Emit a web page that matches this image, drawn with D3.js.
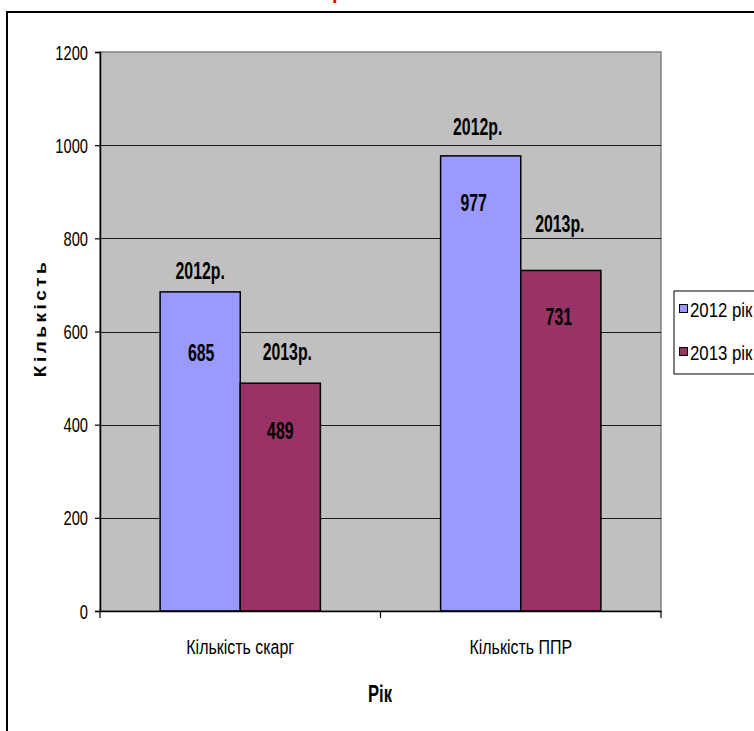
<!DOCTYPE html>
<html><head><meta charset="utf-8">
<script src="https://cdn.jsdelivr.net/npm/d3@7"></script>
<style>
html,body{margin:0;padding:0;background:#fff;overflow:hidden}
svg{display:block}
text{font-family:"Liberation Sans",Arial,sans-serif}
</style></head>
<body>
<svg id="c" width="754" height="731"></svg>
<script>
// ---- data ----
const categories = ["Кількість скарг", "Кількість ППР"];
const seriesNames = ["2012 рік", "2013 рік"];
const seriesLabels = ["2012р.", "2013р."];
const values2012 = [685, 977];
const values2013 = [489, 731];
const yTicks = [0, 200, 400, 600, 800, 1000, 1200];
const colors = ["#9999FF", "#993366"];

// ---- layout ----
const W = 754, H = 731;
const plot = {left: 100, right: 661, top: 52, bottom: 611};
// manual label offsets (px) : [dx, dy] relative to bar centre / bar top
const nameOffsets = [[[0, -21], [7, -32]], [[-3, -29], [-1, -47]]];
const valueOffsets = [[[1, 61], [0, 47]], [[-7, 47], [-2, 46]]];

const svg = d3.select("#c");

// outer frame
svg.append("line").attr("x1", 6).attr("x2", W).attr("y1", 12).attr("y2", 12)
  .attr("stroke", "#000").attr("stroke-width", 2);
svg.append("line").attr("x1", 7).attr("x2", 7).attr("y1", 11).attr("y2", H)
  .attr("stroke", "#000").attr("stroke-width", 2);

// cut-off red title fragment (reference shows only its lower edge)
svg.append("text").attr("x", 332).attr("y", -1)
  .attr("font-family", "Liberation Serif, Times New Roman, serif")
  .attr("font-weight", "bold").attr("font-size", 20).attr("fill", "#ff0000").text("р");

const y = d3.scaleLinear().domain([0, 1200]).range([plot.bottom, plot.top]);
const x0 = d3.scaleBand().domain(categories).range([plot.left, plot.right]).paddingInner(0).paddingOuter(0);
const bw = x0.bandwidth() / 3.5;
const x1 = d3.scaleBand().domain([0, 1]).range([0.75 * bw, 2.75 * bw]).padding(0);

// plot background
svg.append("rect").attr("x", plot.left).attr("y", plot.top)
  .attr("width", plot.right - plot.left).attr("height", plot.bottom - plot.top)
  .attr("fill", "#C0C0C0").attr("stroke", "#808080").attr("stroke-width", 1.5);

// gridlines
svg.append("g").selectAll("line").data(yTicks.filter(d => d > 0 && d < 1200)).join("line")
  .attr("x1", plot.left).attr("x2", plot.right)
  .attr("y1", d => Math.round(y(d)) + 0.5).attr("y2", d => Math.round(y(d)) + 0.5)
  .attr("stroke", "#1a1a1a").attr("stroke-width", 1);

// bars
const rows = categories.map((c, i) => [values2012[i], values2013[i]]);
categories.forEach((c, ci) => {
  [0, 1].forEach(si => {
    const v = rows[ci][si];
    const bx = x0(c) + x1(si);
    svg.append("rect").attr("x", bx).attr("y", y(v))
      .attr("width", x1.bandwidth()).attr("height", y(0) - y(v))
      .attr("fill", colors[si]).attr("stroke", "#000").attr("stroke-width", 1.5);
  });
});

// axes
const yAxis = svg.append("g").attr("transform", `translate(${plot.left},0)`)
  .call(d3.axisLeft(y).tickValues(yTicks).tickSize(5).tickFormat(""));
yAxis.select(".domain").attr("stroke", "#000").attr("stroke-width", 1.5);
yAxis.selectAll(".tick line").attr("stroke", "#000").attr("stroke-width", 1.2);
yTicks.forEach(t => {
  svg.append("text").attr("transform", `translate(88,${y(t) + 7.5}) scale(0.7,1)`)
    .attr("text-anchor", "end").attr("font-size", 21).attr("fill", "#000").text(t);
});

const xAxis = svg.append("g").attr("transform", `translate(0,${plot.bottom})`)
  .call(d3.axisBottom(x0).tickSize(0).tickFormat(""));
xAxis.select(".domain").attr("stroke", "#000").attr("stroke-width", 1.5);
const xTickPos = [plot.left, x0(categories[1]), plot.right];
svg.append("g").selectAll("line").data(xTickPos).join("line")
  .attr("x1", d => d).attr("x2", d => d).attr("y1", plot.bottom).attr("y2", plot.bottom + 7)
  .attr("stroke", "#000").attr("stroke-width", 1.2);
categories.forEach(c => {
  svg.append("text").attr("transform", `translate(${x0(c) + x0.bandwidth() / 2},654) scale(0.76,1)`)
    .attr("text-anchor", "middle").attr("font-size", 21).attr("fill", "#000").text(c);
});

// axis titles
svg.append("text").attr("transform", `translate(380,702) scale(0.72,1)`)
  .attr("text-anchor", "middle").attr("font-size", 23).attr("font-weight", "bold").text("Рік");
svg.append("text").attr("transform", `translate(46,318) rotate(-90) scale(1,0.85)`)
  .attr("text-anchor", "middle").attr("font-size", 19).attr("font-weight", "bold")
  .attr("letter-spacing", 3.5).text("Кількість");

// data labels
categories.forEach((c, ci) => {
  [0, 1].forEach(si => {
    const v = rows[ci][si];
    const cx = x0(c) + x1(si) + x1.bandwidth() / 2;
    const top = y(v);
    const no = nameOffsets[ci][si], vo = valueOffsets[ci][si];
    svg.append("text").attr("transform", `translate(${cx + no[0]},${top + no[1] + 8.5}) scale(0.66,1)`)
      .attr("text-anchor", "middle").attr("font-size", 24).attr("font-weight", "bold").text(seriesLabels[si]);
    svg.append("text").attr("transform", `translate(${cx + vo[0]},${top + vo[1] + 8.5}) scale(0.66,1)`)
      .attr("text-anchor", "middle").attr("font-size", 24).attr("font-weight", "bold").text(v);
  });
});

// legend
svg.append("rect").attr("x", 674).attr("y", 291).attr("width", 100).attr("height", 83)
  .attr("fill", "#fff").attr("stroke", "#000").attr("stroke-width", 1);
seriesNames.forEach((s, i) => {
  const ly = 309 + i * 43;
  svg.append("rect").attr("x", 679.5).attr("y", ly - 4.5).attr("width", 8).attr("height", 8)
    .attr("fill", colors[i]).attr("stroke", "#000").attr("stroke-width", 1);
  svg.append("text").attr("transform", `translate(690,${ly + 7.5}) scale(0.8,1)`)
    .attr("font-size", 21).attr("fill", "#000").text(s);
});
</script>
</body></html>
